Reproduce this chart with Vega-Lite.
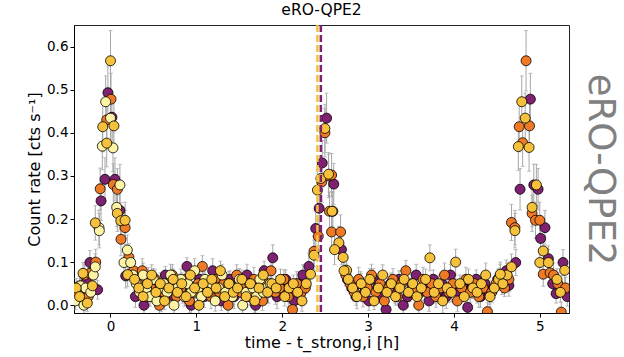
{
"$schema":"https://vega.github.io/schema/vega-lite/v6.json",
"autosize":{"type":"none"},
"width":495,"height":288,
"padding":{"left":74,"top":25,"right":55,"bottom":44},
"background":"white",
"title":{"text":"eRO-QPE2","fontSize":15.5,"fontWeight":"normal","color":"black","offset":5,"font":"DejaVu Sans"},
"config":{
 "font":"DejaVu Sans",
 "view":{"stroke":"#222","strokeWidth":1},
 "axis":{"grid":false,"labelFontSize":13.5,"titleFontSize":16,"titleFontWeight":"normal","labelColor":"black","titleColor":"black","tickColor":"black","domainColor":"black","tickSize":4,"labelPadding":2}
},
"data":{"values":[
{"t":-0.41,"r":0.01,"e":0.02,"c":"L"},{"t":-0.40,"r":0.04,"e":0.022,"c":"G"},{"t":-0.39,"r":0.03,"e":0.022,"c":"O"},{"t":-0.38,"r":0.025,"e":0.02,"c":"P"},{"t":-0.36,"r":0.045,"e":0.022,"c":"O"},{"t":-0.36,"r":0.02,"e":0.02,"c":"G"},{"t":-0.35,"r":0.045,"e":0.022,"c":"L"},{"t":-0.33,"r":0.03,"e":0.022,"c":"P"},{"t":-0.32,"r":0.074,"e":0.025,"c":"G"},{"t":-0.31,"r":0.0,"e":0.02,"c":"L"},{"t":-0.30,"r":0.07,"e":0.025,"c":"O"},{"t":-0.29,"r":0.04,"e":0.022,"c":"L"},{"t":-0.28,"r":0.055,"e":0.022,"c":"P"},{"t":-0.27,"r":0.005,"e":0.02,"c":"G"},{"t":-0.26,"r":0.02,"e":0.02,"c":"O"},{"t":-0.24,"r":0.074,"e":0.025,"c":"O"},{"t":-0.24,"r":0.099,"e":0.028,"c":"P"},{"t":-0.23,"r":0.03,"e":0.022,"c":"L"},{"t":-0.22,"r":0.04,"e":0.022,"c":"P"},{"t":-0.21,"r":0.045,"e":0.022,"c":"G"},{"t":-0.20,"r":0.07,"e":0.025,"c":"L"},
{"t":-0.056,"r":0.472,"e":0.06,"c":"L"},{"t":0.0,"r":0.434,"e":0.058,"c":"L"},{"t":-0.095,"r":0.369,"e":0.055,"c":"L"},{"t":0.029,"r":0.365,"e":0.055,"c":"L"},{"t":-0.134,"r":0.18,"e":0.04,"c":"L"},{"t":-0.13,"r":0.173,"e":0.04,"c":"L"},{"t":-0.177,"r":0.089,"e":0.03,"c":"L"},{"t":0.11,"r":0.279,"e":0.048,"c":"L"},{"t":0.072,"r":0.227,"e":0.045,"c":"L"},{"t":0.196,"r":0.128,"e":0.035,"c":"L"},{"t":0.157,"r":0.099,"e":0.03,"c":"L"},{"t":0.235,"r":0.099,"e":0.03,"c":"L"},
{"t":0.0,"r":0.567,"e":0.07,"c":"G"},{"t":-0.09,"r":0.414,"e":0.058,"c":"G"},{"t":0.04,"r":0.416,"e":0.058,"c":"G"},{"t":-0.044,"r":0.376,"e":0.055,"c":"G"},{"t":-0.177,"r":0.191,"e":0.04,"c":"G"},{"t":0.08,"r":0.213,"e":0.042,"c":"G"},{"t":0.12,"r":0.196,"e":0.042,"c":"G"},{"t":0.17,"r":0.197,"e":0.042,"c":"G"},{"t":0.2,"r":0.071,"e":0.028,"c":"G"},
{"t":0.006,"r":0.478,"e":0.06,"c":"O"},{"t":-0.044,"r":0.43,"e":0.058,"c":"O"},{"t":-0.12,"r":0.27,"e":0.048,"c":"O"},{"t":-0.172,"r":0.10,"e":0.03,"c":"O"},{"t":0.033,"r":0.28,"e":0.048,"c":"O"},{"t":0.08,"r":0.269,"e":0.048,"c":"O"},{"t":0.17,"r":0.18,"e":0.04,"c":"O"},{"t":0.122,"r":0.153,"e":0.038,"c":"O"},{"t":0.215,"r":0.111,"e":0.032,"c":"O"},
{"t":-0.03,"r":0.493,"e":0.062,"c":"P"},{"t":0.017,"r":0.436,"e":0.058,"c":"P"},{"t":-0.064,"r":0.292,"e":0.05,"c":"P"},{"t":-0.11,"r":0.242,"e":0.045,"c":"P"},{"t":-0.15,"r":0.036,"e":0.022,"c":"P"},{"t":0.052,"r":0.292,"e":0.05,"c":"P"},{"t":0.11,"r":0.22,"e":0.045,"c":"P"},{"t":0.177,"r":0.068,"e":0.028,"c":"P"},
{"t":0.26,"r":0.07,"e":0.025,"c":"L"},{"t":0.30,"r":0.05,"e":0.022,"c":"L"},{"t":0.34,"r":0.03,"e":0.02,"c":"L"},{"t":0.38,"r":0.07,"e":0.028,"c":"L"},{"t":0.42,"r":0.04,"e":0.024,"c":"L"},{"t":0.46,"r":0.02,"e":0.022,"c":"L"},{"t":0.50,"r":0.06,"e":0.025,"c":"L"},{"t":0.54,"r":0.01,"e":0.02,"c":"L"},{"t":0.58,"r":0.04,"e":0.028,"c":"L"},{"t":0.62,"r":0.05,"e":0.024,"c":"L"},{"t":0.66,"r":0.03,"e":0.022,"c":"L"},{"t":0.70,"r":0.07,"e":0.025,"c":"L"},{"t":0.74,"r":0.00,"e":0.02,"c":"L"},{"t":0.78,"r":0.04,"e":0.028,"c":"L"},{"t":0.82,"r":0.06,"e":0.024,"c":"L"},{"t":0.86,"r":0.02,"e":0.022,"c":"L"},{"t":0.90,"r":0.05,"e":0.025,"c":"L"},{"t":0.94,"r":0.03,"e":0.02,"c":"L"},{"t":0.98,"r":0.08,"e":0.028,"c":"L"},{"t":1.02,"r":0.04,"e":0.024,"c":"L"},{"t":1.06,"r":0.02,"e":0.022,"c":"L"},{"t":1.10,"r":0.06,"e":0.025,"c":"L"},{"t":1.14,"r":0.03,"e":0.02,"c":"L"},{"t":1.18,"r":0.05,"e":0.028,"c":"L"},{"t":1.22,"r":0.01,"e":0.024,"c":"L"},{"t":1.26,"r":0.04,"e":0.022,"c":"L"},{"t":1.30,"r":0.07,"e":0.025,"c":"L"},{"t":1.34,"r":0.03,"e":0.02,"c":"L"},{"t":1.38,"r":0.05,"e":0.028,"c":"L"},{"t":1.42,"r":0.02,"e":0.024,"c":"L"},{"t":1.46,"r":0.04,"e":0.022,"c":"L"},{"t":1.50,"r":0.06,"e":0.025,"c":"L"},{"t":1.54,"r":0.00,"e":0.02,"c":"L"},{"t":1.58,"r":0.03,"e":0.028,"c":"L"},{"t":1.62,"r":0.05,"e":0.024,"c":"L"},{"t":1.66,"r":0.04,"e":0.022,"c":"L"},{"t":1.70,"r":0.02,"e":0.025,"c":"L"},{"t":1.74,"r":0.06,"e":0.02,"c":"L"},{"t":1.78,"r":0.03,"e":0.028,"c":"L"},{"t":1.82,"r":0.04,"e":0.024,"c":"L"},{"t":1.86,"r":0.05,"e":0.022,"c":"L"},
{"t":0.28,"r":0.06,"e":0.025,"c":"G"},{"t":0.33,"r":0.04,"e":0.022,"c":"G"},{"t":0.38,"r":0.02,"e":0.02,"c":"G"},{"t":0.43,"r":0.05,"e":0.028,"c":"G"},{"t":0.48,"r":0.07,"e":0.024,"c":"G"},{"t":0.53,"r":0.03,"e":0.022,"c":"G"},{"t":0.58,"r":0.05,"e":0.025,"c":"G"},{"t":0.63,"r":0.01,"e":0.02,"c":"G"},{"t":0.68,"r":0.04,"e":0.028,"c":"G"},{"t":0.73,"r":0.06,"e":0.024,"c":"G"},{"t":0.78,"r":0.03,"e":0.022,"c":"G"},{"t":0.83,"r":0.05,"e":0.025,"c":"G"},{"t":0.88,"r":0.02,"e":0.02,"c":"G"},{"t":0.93,"r":0.07,"e":0.028,"c":"G"},{"t":0.98,"r":0.04,"e":0.024,"c":"G"},{"t":1.03,"r":0.00,"e":0.022,"c":"G"},{"t":1.08,"r":0.05,"e":0.025,"c":"G"},{"t":1.13,"r":0.03,"e":0.02,"c":"G"},{"t":1.18,"r":0.06,"e":0.028,"c":"G"},{"t":1.23,"r":0.04,"e":0.024,"c":"G"},{"t":1.28,"r":0.08,"e":0.022,"c":"G"},{"t":1.33,"r":0.02,"e":0.025,"c":"G"},{"t":1.38,"r":0.05,"e":0.02,"c":"G"},{"t":1.43,"r":0.03,"e":0.028,"c":"G"},{"t":1.48,"r":0.04,"e":0.024,"c":"G"},{"t":1.53,"r":0.06,"e":0.022,"c":"G"},{"t":1.58,"r":0.02,"e":0.025,"c":"G"},{"t":1.63,"r":0.05,"e":0.02,"c":"G"},{"t":1.68,"r":0.01,"e":0.028,"c":"G"},{"t":1.73,"r":0.04,"e":0.024,"c":"G"},{"t":1.78,"r":0.07,"e":0.022,"c":"G"},{"t":1.83,"r":0.03,"e":0.025,"c":"G"},{"t":1.88,"r":0.05,"e":0.02,"c":"G"},{"t":1.93,"r":0.04,"e":0.028,"c":"G"},{"t":1.98,"r":0.06,"e":0.024,"c":"G"},{"t":2.03,"r":0.02,"e":0.022,"c":"G"},{"t":2.08,"r":0.04,"e":0.025,"c":"G"},{"t":2.13,"r":0.05,"e":0.02,"c":"G"},{"t":2.18,"r":0.03,"e":0.028,"c":"G"},{"t":2.23,"r":0.01,"e":0.024,"c":"G"},{"t":2.28,"r":0.05,"e":0.022,"c":"G"},
{"t":0.27,"r":0.08,"e":0.025,"c":"O"},{"t":0.32,"r":0.05,"e":0.022,"c":"O"},{"t":0.37,"r":0.08,"e":0.028,"c":"O"},{"t":0.42,"r":0.02,"e":0.02,"c":"O"},{"t":0.47,"r":0.04,"e":0.024,"c":"O"},{"t":0.52,"r":0.06,"e":0.022,"c":"O"},{"t":0.57,"r":0.00,"e":0.025,"c":"O"},{"t":0.62,"r":0.03,"e":0.02,"c":"O"},{"t":0.67,"r":0.05,"e":0.028,"c":"O"},{"t":0.72,"r":0.07,"e":0.024,"c":"O"},{"t":0.77,"r":0.02,"e":0.022,"c":"O"},{"t":0.82,"r":0.04,"e":0.025,"c":"O"},{"t":0.87,"r":0.06,"e":0.02,"c":"O"},{"t":0.92,"r":0.01,"e":0.028,"c":"O"},{"t":0.97,"r":0.03,"e":0.024,"c":"O"},{"t":1.02,"r":0.05,"e":0.022,"c":"O"},{"t":1.07,"r":0.09,"e":0.025,"c":"O"},{"t":1.12,"r":0.04,"e":0.02,"c":"O"},{"t":1.17,"r":0.02,"e":0.028,"c":"O"},{"t":1.22,"r":0.06,"e":0.024,"c":"O"},{"t":1.27,"r":0.03,"e":0.022,"c":"O"},{"t":1.32,"r":0.05,"e":0.025,"c":"O"},{"t":1.37,"r":0.00,"e":0.02,"c":"O"},{"t":1.42,"r":0.04,"e":0.028,"c":"O"},{"t":1.47,"r":0.07,"e":0.024,"c":"O"},{"t":1.52,"r":0.03,"e":0.022,"c":"O"},{"t":1.57,"r":0.05,"e":0.025,"c":"O"},{"t":1.62,"r":0.02,"e":0.02,"c":"O"},{"t":1.67,"r":0.06,"e":0.028,"c":"O"},{"t":1.72,"r":0.04,"e":0.024,"c":"O"},{"t":1.77,"r":0.01,"e":0.022,"c":"O"},{"t":1.82,"r":0.05,"e":0.025,"c":"O"},{"t":1.87,"r":0.08,"e":0.02,"c":"O"},{"t":1.92,"r":0.03,"e":0.028,"c":"O"},{"t":1.97,"r":0.04,"e":0.024,"c":"O"},{"t":2.02,"r":0.06,"e":0.022,"c":"O"},{"t":2.07,"r":0.02,"e":0.025,"c":"O"},{"t":2.12,"r":-0.01,"e":0.02,"c":"O"},{"t":2.17,"r":0.05,"e":0.028,"c":"O"},{"t":2.22,"r":0.03,"e":0.024,"c":"O"},{"t":2.27,"r":0.04,"e":0.022,"c":"O"},
{"t":0.29,"r":0.02,"e":0.025,"c":"P"},{"t":0.34,"r":0.04,"e":0.022,"c":"P"},{"t":0.39,"r":0.00,"e":0.02,"c":"P"},{"t":0.44,"r":0.06,"e":0.028,"c":"P"},{"t":0.49,"r":0.03,"e":0.024,"c":"P"},{"t":0.54,"r":0.05,"e":0.022,"c":"P"},{"t":0.59,"r":0.01,"e":0.025,"c":"P"},{"t":0.64,"r":0.07,"e":0.02,"c":"P"},{"t":0.69,"r":0.04,"e":0.028,"c":"P"},{"t":0.74,"r":0.02,"e":0.024,"c":"P"},{"t":0.79,"r":0.05,"e":0.022,"c":"P"},{"t":0.84,"r":0.03,"e":0.025,"c":"P"},{"t":0.89,"r":0.09,"e":0.02,"c":"P"},{"t":0.94,"r":0.00,"e":0.028,"c":"P"},{"t":0.99,"r":0.04,"e":0.024,"c":"P"},{"t":1.04,"r":0.06,"e":0.022,"c":"P"},{"t":1.09,"r":0.02,"e":0.025,"c":"P"},{"t":1.14,"r":0.05,"e":0.02,"c":"P"},{"t":1.19,"r":0.08,"e":0.028,"c":"P"},{"t":1.24,"r":0.03,"e":0.024,"c":"P"},{"t":1.29,"r":0.01,"e":0.022,"c":"P"},{"t":1.34,"r":0.04,"e":0.025,"c":"P"},{"t":1.39,"r":0.06,"e":0.02,"c":"P"},{"t":1.44,"r":0.02,"e":0.028,"c":"P"},{"t":1.49,"r":0.05,"e":0.024,"c":"P"},{"t":1.54,"r":0.03,"e":0.022,"c":"P"},{"t":1.59,"r":0.07,"e":0.025,"c":"P"},{"t":1.64,"r":0.04,"e":0.02,"c":"P"},{"t":1.69,"r":0.00,"e":0.028,"c":"P"},{"t":1.74,"r":0.05,"e":0.024,"c":"P"},{"t":1.79,"r":0.08,"e":0.022,"c":"P"},{"t":1.84,"r":0.03,"e":0.025,"c":"P"},{"t":1.89,"r":0.11,"e":0.03,"c":"P"},{"t":1.94,"r":0.02,"e":0.028,"c":"P"},{"t":1.99,"r":0.04,"e":0.024,"c":"P"},{"t":2.04,"r":0.06,"e":0.022,"c":"P"},{"t":2.09,"r":0.03,"e":0.025,"c":"P"},{"t":2.14,"r":0.01,"e":0.02,"c":"P"},{"t":2.19,"r":0.05,"e":0.028,"c":"P"},{"t":2.24,"r":0.07,"e":0.024,"c":"P"},
{"t":2.517,"r":0.434,"e":0.058,"c":"P"},{"t":2.466,"r":0.33,"e":0.052,"c":"P"},{"t":2.60,"r":0.281,"e":0.048,"c":"P"},{"t":2.43,"r":0.225,"e":0.045,"c":"P"},{"t":2.39,"r":0.178,"e":0.04,"c":"P"},{"t":2.69,"r":0.129,"e":0.035,"c":"P"},{"t":2.31,"r":0.09,"e":0.03,"c":"P"},
{"t":2.497,"r":0.40,"e":0.056,"c":"O"},{"t":2.46,"r":0.286,"e":0.048,"c":"O"},{"t":2.54,"r":0.30,"e":0.05,"c":"O"},{"t":2.575,"r":0.302,"e":0.05,"c":"O"},{"t":2.55,"r":0.218,"e":0.045,"c":"O"},{"t":2.59,"r":0.218,"e":0.045,"c":"O"},{"t":2.42,"r":0.16,"e":0.038,"c":"O"},{"t":2.575,"r":0.17,"e":0.04,"c":"O"},{"t":2.68,"r":0.17,"e":0.04,"c":"O"},{"t":2.37,"r":0.125,"e":0.035,"c":"O"},
{"t":2.497,"r":0.41,"e":0.056,"c":"G"},{"t":2.45,"r":0.294,"e":0.05,"c":"G"},{"t":2.54,"r":0.304,"e":0.05,"c":"G"},{"t":2.41,"r":0.267,"e":0.048,"c":"G"},{"t":2.58,"r":0.218,"e":0.045,"c":"G"},{"t":2.66,"r":0.145,"e":0.038,"c":"G"},{"t":2.61,"r":0.129,"e":0.035,"c":"G"},{"t":2.37,"r":0.116,"e":0.035,"c":"G"},{"t":2.71,"r":0.111,"e":0.032,"c":"G"},{"t":2.33,"r":0.072,"e":0.028,"c":"G"},{"t":2.75,"r":0.081,"e":0.028,"c":"G"},
{"t":2.72,"r":0.08,"e":0.025,"c":"G"},{"t":2.77,"r":0.06,"e":0.022,"c":"G"},{"t":2.82,"r":0.04,"e":0.02,"c":"G"},{"t":2.87,"r":0.02,"e":0.028,"c":"G"},{"t":2.92,"r":0.05,"e":0.024,"c":"G"},{"t":2.97,"r":0.03,"e":0.022,"c":"G"},{"t":3.02,"r":0.06,"e":0.025,"c":"G"},{"t":3.07,"r":0.01,"e":0.02,"c":"G"},{"t":3.12,"r":0.04,"e":0.028,"c":"G"},{"t":3.17,"r":0.07,"e":0.024,"c":"G"},{"t":3.22,"r":0.03,"e":0.022,"c":"G"},{"t":3.27,"r":0.05,"e":0.025,"c":"G"},{"t":3.32,"r":0.02,"e":0.02,"c":"G"},{"t":3.37,"r":0.04,"e":0.028,"c":"G"},{"t":3.42,"r":0.06,"e":0.024,"c":"G"},{"t":3.47,"r":0.03,"e":0.022,"c":"G"},{"t":3.52,"r":0.05,"e":0.025,"c":"G"},{"t":3.57,"r":0.02,"e":0.02,"c":"G"},{"t":3.62,"r":0.04,"e":0.028,"c":"G"},{"t":3.67,"r":0.06,"e":0.024,"c":"G"},{"t":3.72,"r":0.11,"e":0.03,"c":"G"},{"t":3.77,"r":0.03,"e":0.025,"c":"G"},{"t":3.82,"r":0.05,"e":0.02,"c":"G"},{"t":3.87,"r":0.01,"e":0.028,"c":"G"},{"t":3.92,"r":0.04,"e":0.024,"c":"G"},{"t":3.97,"r":0.03,"e":0.022,"c":"G"},{"t":4.02,"r":0.10,"e":0.03,"c":"G"},{"t":4.07,"r":0.05,"e":0.02,"c":"G"},{"t":4.12,"r":0.02,"e":0.028,"c":"G"},{"t":4.17,"r":0.06,"e":0.024,"c":"G"},{"t":4.22,"r":0.04,"e":0.022,"c":"G"},{"t":4.27,"r":0.03,"e":0.025,"c":"G"},{"t":4.32,"r":0.05,"e":0.02,"c":"G"},{"t":4.37,"r":0.07,"e":0.028,"c":"G"},{"t":4.42,"r":0.02,"e":0.024,"c":"G"},{"t":4.47,"r":0.04,"e":0.022,"c":"G"},{"t":4.52,"r":0.06,"e":0.025,"c":"G"},{"t":4.57,"r":0.05,"e":0.02,"c":"G"},{"t":4.62,"r":0.07,"e":0.028,"c":"G"},
{"t":2.74,"r":0.07,"e":0.025,"c":"O"},{"t":2.79,"r":0.05,"e":0.022,"c":"O"},{"t":2.84,"r":0.03,"e":0.02,"c":"O"},{"t":2.89,"r":0.06,"e":0.028,"c":"O"},{"t":2.94,"r":0.02,"e":0.024,"c":"O"},{"t":2.99,"r":0.04,"e":0.022,"c":"O"},{"t":3.04,"r":0.07,"e":0.025,"c":"O"},{"t":3.09,"r":0.03,"e":0.02,"c":"O"},{"t":3.14,"r":0.05,"e":0.028,"c":"O"},{"t":3.19,"r":0.01,"e":0.024,"c":"O"},{"t":3.24,"r":0.04,"e":0.022,"c":"O"},{"t":3.29,"r":0.06,"e":0.025,"c":"O"},{"t":3.34,"r":0.02,"e":0.02,"c":"O"},{"t":3.39,"r":0.05,"e":0.028,"c":"O"},{"t":3.44,"r":0.08,"e":0.024,"c":"O"},{"t":3.49,"r":0.03,"e":0.022,"c":"O"},{"t":3.54,"r":0.04,"e":0.025,"c":"O"},{"t":3.59,"r":0.00,"e":0.02,"c":"O"},{"t":3.64,"r":0.06,"e":0.028,"c":"O"},{"t":3.69,"r":0.03,"e":0.024,"c":"O"},{"t":3.74,"r":0.05,"e":0.022,"c":"O"},{"t":3.79,"r":0.02,"e":0.025,"c":"O"},{"t":3.84,"r":0.04,"e":0.02,"c":"O"},{"t":3.89,"r":0.07,"e":0.028,"c":"O"},{"t":3.94,"r":0.03,"e":0.024,"c":"O"},{"t":3.99,"r":0.05,"e":0.022,"c":"O"},{"t":4.04,"r":0.01,"e":0.025,"c":"O"},{"t":4.09,"r":0.04,"e":0.02,"c":"O"},{"t":4.14,"r":0.06,"e":0.028,"c":"O"},{"t":4.19,"r":0.03,"e":0.024,"c":"O"},{"t":4.24,"r":0.05,"e":0.022,"c":"O"},{"t":4.29,"r":0.02,"e":0.025,"c":"O"},{"t":4.34,"r":0.04,"e":0.02,"c":"O"},{"t":4.39,"r":-0.015,"e":0.022,"c":"O"},{"t":4.44,"r":0.03,"e":0.024,"c":"O"},{"t":4.49,"r":0.05,"e":0.022,"c":"O"},{"t":4.54,"r":0.07,"e":0.025,"c":"O"},{"t":4.59,"r":0.04,"e":0.02,"c":"O"},{"t":4.64,"r":0.06,"e":0.028,"c":"O"},
{"t":2.76,"r":0.06,"e":0.025,"c":"P"},{"t":2.81,"r":0.04,"e":0.022,"c":"P"},{"t":2.86,"r":0.02,"e":0.02,"c":"P"},{"t":2.91,"r":0.05,"e":0.028,"c":"P"},{"t":2.96,"r":0.03,"e":0.024,"c":"P"},{"t":3.01,"r":0.01,"e":0.022,"c":"P"},{"t":3.06,"r":0.06,"e":0.025,"c":"P"},{"t":3.11,"r":0.04,"e":0.02,"c":"P"},{"t":3.16,"r":0.02,"e":0.028,"c":"P"},{"t":3.21,"r":-0.01,"e":0.024,"c":"P"},{"t":3.26,"r":0.05,"e":0.022,"c":"P"},{"t":3.31,"r":0.03,"e":0.025,"c":"P"},{"t":3.36,"r":0.06,"e":0.02,"c":"P"},{"t":3.41,"r":0.00,"e":0.028,"c":"P"},{"t":3.46,"r":0.02,"e":0.024,"c":"P"},{"t":3.51,"r":0.05,"e":0.022,"c":"P"},{"t":3.56,"r":0.07,"e":0.025,"c":"P"},{"t":3.61,"r":0.03,"e":0.02,"c":"P"},{"t":3.66,"r":0.04,"e":0.028,"c":"P"},{"t":3.71,"r":0.01,"e":0.024,"c":"P"},{"t":3.76,"r":0.06,"e":0.022,"c":"P"},{"t":3.81,"r":0.03,"e":0.025,"c":"P"},{"t":3.86,"r":0.05,"e":0.02,"c":"P"},{"t":3.91,"r":0.02,"e":0.028,"c":"P"},{"t":3.96,"r":0.07,"e":0.024,"c":"P"},{"t":4.01,"r":0.04,"e":0.022,"c":"P"},{"t":4.06,"r":0.03,"e":0.025,"c":"P"},{"t":4.11,"r":0.05,"e":0.02,"c":"P"},{"t":4.16,"r":-0.005,"e":0.028,"c":"P"},{"t":4.21,"r":0.04,"e":0.024,"c":"P"},{"t":4.26,"r":0.06,"e":0.022,"c":"P"},{"t":4.31,"r":0.02,"e":0.025,"c":"P"},{"t":4.36,"r":0.05,"e":0.02,"c":"P"},{"t":4.41,"r":0.03,"e":0.028,"c":"P"},{"t":4.46,"r":0.04,"e":0.024,"c":"P"},{"t":4.51,"r":0.06,"e":0.022,"c":"P"},{"t":4.56,"r":0.05,"e":0.025,"c":"P"},{"t":4.61,"r":0.08,"e":0.025,"c":"P"},
{"t":4.84,"r":0.567,"e":0.07,"c":"O"},{"t":4.76,"r":0.414,"e":0.058,"c":"O"},{"t":4.88,"r":0.416,"e":0.058,"c":"O"},{"t":4.80,"r":0.377,"e":0.055,"c":"O"},{"t":4.91,"r":0.213,"e":0.042,"c":"O"},{"t":4.95,"r":0.197,"e":0.042,"c":"O"},{"t":5.0,"r":0.197,"e":0.042,"c":"O"},{"t":4.67,"r":0.192,"e":0.042,"c":"O"},{"t":4.71,"r":0.18,"e":0.04,"c":"O"},{"t":5.04,"r":0.072,"e":0.028,"c":"O"},{"t":5.12,"r":0.075,"e":0.028,"c":"O"},{"t":5.16,"r":0.07,"e":0.028,"c":"O"},{"t":5.21,"r":0.05,"e":0.025,"c":"O"},{"t":5.25,"r":-0.016,"e":0.022,"c":"O"},{"t":5.30,"r":0.04,"e":0.025,"c":"O"},
{"t":4.79,"r":0.472,"e":0.06,"c":"G"},{"t":4.83,"r":0.434,"e":0.058,"c":"G"},{"t":4.75,"r":0.368,"e":0.055,"c":"G"},{"t":4.875,"r":0.366,"e":0.055,"c":"G"},{"t":4.96,"r":0.279,"e":0.048,"c":"G"},{"t":4.91,"r":0.227,"e":0.045,"c":"G"},{"t":4.71,"r":0.173,"e":0.04,"c":"G"},{"t":5.04,"r":0.126,"e":0.035,"c":"G"},{"t":4.67,"r":0.089,"e":0.03,"c":"G"},{"t":5.0,"r":0.099,"e":0.03,"c":"G"},{"t":5.10,"r":0.099,"e":0.03,"c":"G"},{"t":5.29,"r":0.081,"e":0.028,"c":"G"},{"t":4.54,"r":0.072,"e":0.028,"c":"G"},{"t":5.2,"r":0.06,"e":0.025,"c":"G"},{"t":5.24,"r":0.03,"e":0.022,"c":"G"},
{"t":4.89,"r":0.478,"e":0.06,"c":"P"},{"t":4.77,"r":0.269,"e":0.048,"c":"P"},{"t":4.93,"r":0.279,"e":0.048,"c":"P"},{"t":4.98,"r":0.269,"e":0.048,"c":"P"},{"t":5.06,"r":0.18,"e":0.04,"c":"P"},{"t":5.01,"r":0.155,"e":0.038,"c":"P"},{"t":4.72,"r":0.099,"e":0.03,"c":"P"},{"t":5.10,"r":0.108,"e":0.03,"c":"P"},{"t":5.27,"r":0.099,"e":0.03,"c":"P"},{"t":4.64,"r":0.046,"e":0.025,"c":"P"},{"t":5.19,"r":0.027,"e":0.022,"c":"P"},{"t":5.15,"r":0.05,"e":0.025,"c":"P"},{"t":5.32,"r":0.02,"e":0.022,"c":"P"}
]},
"resolve":{"axis":{"y":"independent"}},
"layer":[
 {"mark":{"type":"errorbar","ticks":{"size":4,"color":"#a6a6a6"},"color":"#a6a6a6","thickness":1,"clip":true},
  "encoding":{
   "x":{"field":"t","type":"quantitative","scale":{"domain":[-0.425,5.34],"nice":false,"zero":false}},
   "y":{"field":"r","type":"quantitative","scale":{"domain":[-0.018,0.65],"nice":false,"zero":false},
        "axis":{"orient":"right","title":"eRO-QPE2","titleFontSize":37,"titleColor":"#808080","titleAngle":90,"titlePadding":11,"labels":false,"ticks":false,"domain":false}},
   "yError":{"field":"e"}
  }},
 {"mark":{"type":"circle","size":100,"opacity":1,"stroke":"black","strokeWidth":0.8,"clip":true},
  "encoding":{
   "x":{"field":"t","type":"quantitative","axis":{"title":"time - t_strong,i [h]","values":[0,1,2,3,4,5],"format":"d","titlePadding":2}},
   "y":{"field":"r","type":"quantitative","axis":{"orient":"left","title":"Count rate [cts s⁻¹]","values":[0,0.1,0.2,0.3,0.4,0.5,0.6],"format":".1f","titlePadding":4}},
   "color":{"field":"c","type":"nominal","legend":null,"scale":{"domain":["L","G","O","P"],"range":["#fcf4a4","#f6c13b","#ef7a26","#7e2170"]}},
   "order":{"field":"c","sort":"descending"}
  }},
 {"data":{"values":[{"t":2.41,"c":"G"},{"t":2.45,"c":"P"}]},
  "mark":{"type":"rule","strokeWidth":2.5,"strokeDash":[7,3]},
  "encoding":{
   "x":{"field":"t","type":"quantitative"},
   "color":{"field":"c","type":"nominal","legend":null}
  }}
]
}
